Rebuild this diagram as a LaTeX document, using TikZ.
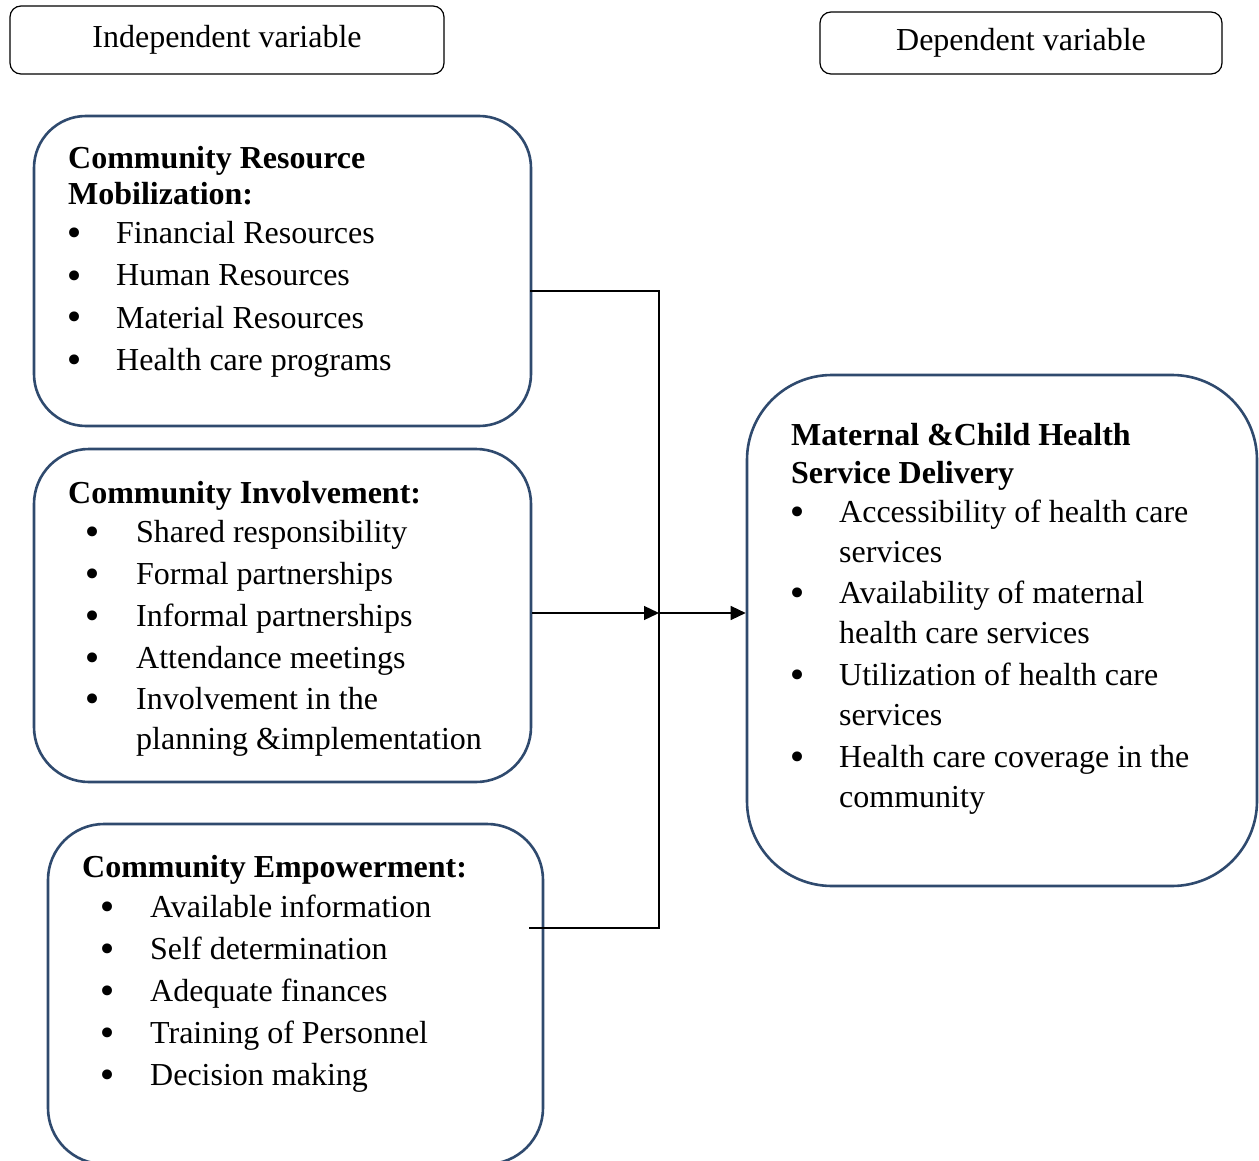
\documentclass[tikz,border=0pt]{standalone}
\usepackage{fontspec}
\setmainfont{Liberation Serif}
\newfontfamily\bulfont{DejaVu Sans}
\usetikzlibrary{arrows.meta}
\definecolor{boxblue}{RGB}{47,74,110}
\begin{document}
\begin{tikzpicture}[x=1pt,y=-1pt,
  varbox/.style={draw=black, line width=1.2pt, rounded corners=11pt, inner sep=0pt, font=\fontsize{32}{38}\selectfont},
  bigbox/.style={draw=boxblue, line width=2.6pt, inner sep=0pt},
  txt/.style={anchor=base west, inner sep=0pt, font=\fontsize{32}{38}\selectfont},
  hd/.style={anchor=base west, inner sep=0pt, font=\fontsize{32}{38}\selectfont\bfseries},
  bul/.style={anchor=base, inner sep=0pt, yshift=-2pt, font=\bulfont\fontsize{34}{36}\selectfont},
  conn/.style={draw=black, line width=1.3pt},
  arr/.style={conn, -{Triangle[length=15pt,width=14pt]}}]
\useasboundingbox (0,0) rectangle (1259,1161);

% top labels
\node[varbox, minimum width=434pt, minimum height=68pt] (indep) at (227,40) {\raisebox{-3pt}{Independent variable}};
\node[varbox, minimum width=402pt, minimum height=62pt] (dep) at (1021,43) {\raisebox{-3pt}{Dependent variable}};

% big boxes
\node[bigbox, rounded corners=52pt, minimum width=497pt, minimum height=310pt] (mob) at (282.5,271) {};
\node[bigbox, rounded corners=55pt, minimum width=497pt, minimum height=333pt] (inv) at (282.5,615.5) {};
\node[bigbox, rounded corners=56pt, minimum width=495pt, minimum height=340pt] (emp) at (295.5,994) {};
\node[bigbox, rounded corners=85pt, minimum width=510pt, minimum height=511pt] (mch) at (1002,630.5) {};

% box 1 text
\node[hd] (m0) at (68,169) {Community Resource};
\node[hd] (m1) at (68,205) {Mobilization:};
\node[bul] (mb1) at (75,244) {•};
\node[txt] (mt1) at (116,244) {Financial Resources};
\node[bul] (mb2) at (75,286) {•};
\node[txt] (mt2) at (116,286) {Human Resources};
\node[bul] (mb3) at (75,328) {•};
\node[txt] (mt3) at (116,328) {Material Resources};
\node[bul] (mb4) at (75,370) {•};
\node[txt] (mt4) at (116,370) {Health care programs};

% box 2 text
\node[hd] (i0) at (68,503) {Community Involvement:};
\node[bul] (ib1) at (93,542) {•};
\node[txt] (it1) at (136,542) {Shared responsibility};
\node[bul] (ib2) at (93,584) {•};
\node[txt] (it2) at (136,584) {Formal partnerships};
\node[bul] (ib3) at (93,626) {•};
\node[txt] (it3) at (136,626) {Informal partnerships};
\node[bul] (ib4) at (93,668) {•};
\node[txt] (it4) at (136,668) {Attendance meetings};
\node[bul] (ib5) at (93,709) {•};
\node[txt] (it5) at (136,709) {Involvement in the};
\node[txt] (it6) at (136,749) {planning \&implementation};

% box 3 text
\node[hd] (e0) at (82,877) {Community Empowerment:};
\node[bul] (eb1) at (108,917) {•};
\node[txt] (et1) at (150,917) {Available information};
\node[bul] (eb2) at (108,959) {•};
\node[txt] (et2) at (150,959) {Self determination};
\node[bul] (eb3) at (108,1001) {•};
\node[txt] (et3) at (150,1001) {Adequate finances};
\node[bul] (eb4) at (108,1043) {•};
\node[txt] (et4) at (150,1043) {Training of Personnel};
\node[bul] (eb5) at (108,1085) {•};
\node[txt] (et5) at (150,1085) {Decision making};

% outcome box text
\node[hd] (o0) at (791,445) {Maternal \&Child Health};
\node[hd] (o1) at (791,483) {Service Delivery};
\node[bul] (ob1) at (798,522) {•};
\node[txt] (ot1) at (839,522) {Accessibility of health care};
\node[txt] (ot1b) at (839,562) {services};
\node[bul] (ob2) at (798,603) {•};
\node[txt] (ot2) at (839,603) {Availability of maternal};
\node[txt] (ot2b) at (839,643) {health care services};
\node[bul] (ob3) at (798,685) {•};
\node[txt] (ot3) at (839,685) {Utilization of health care};
\node[txt] (ot3b) at (839,725) {services};
\node[bul] (ob4) at (798,767) {•};
\node[txt] (ot4) at (839,767) {Health care coverage in the};
\node[txt] (ot4b) at (839,807) {community};

% connectors
\coordinate (jt) at (659,291);
\coordinate (jm) at (659,613);
\coordinate (jb) at (659,928);
\draw[conn] ([xshift=-2pt]mob.east |- jt) -- (jt) -- (jb) -- ([xshift=-15pt]emp.east |- jb);
\draw[arr] (inv.east |- jm) -- (jm);
\draw[arr] (jm) -- (mch.west |- jm);
\end{tikzpicture}
\end{document}
